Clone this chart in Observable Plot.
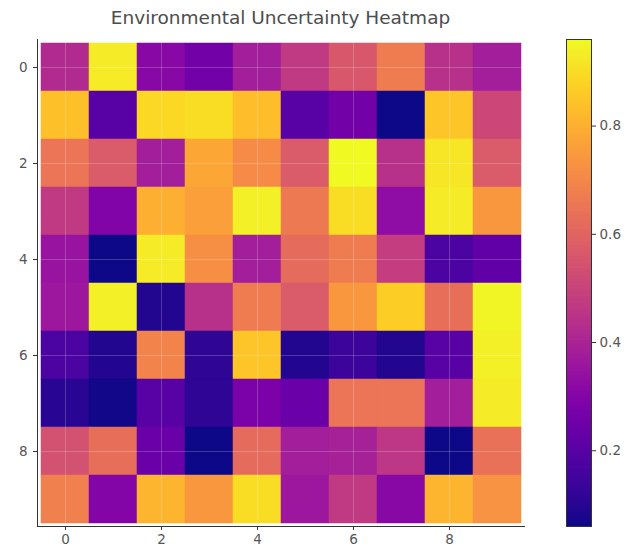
<!DOCTYPE html>
<html>
<head>
<meta charset="utf-8">
<script src="https://cdn.jsdelivr.net/npm/d3@7"></script>
<script src="https://cdn.jsdelivr.net/npm/@observablehq/plot@0.6"></script>
<style>
  html, body { margin: 0; padding: 0; background: #ffffff; }
  #chart { position: relative; width: 626px; height: 550px; font-family: "DejaVu Sans", sans-serif; }
  #title { position: absolute; top: 7px; left: 0; width: 561px; text-align: center; font-size: 18.5px; color: #4d4d4d; }
  #heat { position: absolute; left: 0; top: 0; }
  #cbar { position: absolute; left: 541px; top: 0; }
</style>
</head>
<body>
<div id="chart">
  <div id="title">Environmental Uncertainty Heatmap</div>
  <div id="heat"></div>
  <div id="cbar"></div>
</div>
<script>
// ---- data ----
const rowIndex = [0, 1, 2, 3, 4, 5, 6, 7, 8, 9];
const colIndex = [0, 1, 2, 3, 4, 5, 6, 7, 8, 9];
const row0 = [0.42, 0.93, 0.31, 0.26, 0.38, 0.47, 0.56, 0.67, 0.44, 0.38];
const row1 = [0.84, 0.20, 0.89, 0.90, 0.83, 0.20, 0.26, 0.06, 0.85, 0.51];
const row2 = [0.65, 0.57, 0.38, 0.78, 0.71, 0.57, 0.96, 0.44, 0.92, 0.57];
const row3 = [0.47, 0.29, 0.80, 0.76, 0.94, 0.66, 0.90, 0.33, 0.93, 0.74];
const row4 = [0.35, 0.06, 0.93, 0.72, 0.38, 0.62, 0.67, 0.48, 0.17, 0.22];
const row5 = [0.36, 0.94, 0.09, 0.44, 0.67, 0.57, 0.74, 0.87, 0.63, 0.95];
const row6 = [0.17, 0.09, 0.69, 0.11, 0.85, 0.09, 0.14, 0.09, 0.20, 0.94];
const row7 = [0.10, 0.07, 0.20, 0.11, 0.28, 0.24, 0.65, 0.65, 0.38, 0.93];
const row8 = [0.54, 0.63, 0.24, 0.06, 0.62, 0.38, 0.39, 0.46, 0.06, 0.64];
const row9 = [0.68, 0.30, 0.81, 0.74, 0.90, 0.36, 0.47, 0.31, 0.81, 0.73];
const valueRows = [row0, row1, row2, row3, row4, row5, row6, row7, row8, row9];
const axisTicks = [0, 2, 4, 6, 8];
const colorbarTicks = [0.2, 0.4, 0.6, 0.8];
const colorDomain = [0.06, 0.96];

const cells = [];
rowIndex.forEach((r, i) => colIndex.forEach((c, j) => cells.push({row: r, col: c, value: valueRows[i][j]})));

const font = {fontFamily: "DejaVu Sans, sans-serif", fontSize: "13.5px", color: "#555", background: "transparent"};

const heat = Plot.plot({
  width: 540, height: 550,
  marginLeft: 37, marginRight: 16, marginTop: 39, marginBottom: 24,
  style: font,
  x: {type: "band", domain: colIndex, padding: 0, axis: null},
  y: {type: "band", domain: rowIndex, padding: 0, axis: null},
  color: {type: "linear", scheme: "plasma", domain: colorDomain},
  marks: [
    Plot.cell(cells, {x: "col", y: "row", fill: "value", inset: 0, stroke: "value", strokeWidth: 0.5}),
    Plot.gridX(axisTicks, {stroke: "white", strokeOpacity: 0.2}),
    Plot.gridY(axisTicks, {stroke: "white", strokeOpacity: 0.2}),
    Plot.axisX(axisTicks, {label: null, tickSize: 4, tickPadding: 4, stroke: "#333", fill: "#555", fontSize: 13.5}),
    Plot.axisY(axisTicks, {label: null, tickSize: 4, tickPadding: 6, stroke: "#333", fill: "#555", fontSize: 13.5}),
    Plot.frame({anchor: "bottom", stroke: "#333"}),
    Plot.frame({anchor: "left", stroke: "#333"})
  ]
});
document.getElementById("heat").appendChild(heat);

const cbar = Plot.plot({
  width: 85, height: 550,
  marginLeft: 25, marginRight: 35, marginTop: 39, marginBottom: 24,
  style: font,
  x: {domain: [0, 1], axis: null},
  y: {domain: colorDomain, axis: null},
  color: {type: "linear", scheme: "plasma", domain: colorDomain},
  marks: [
    Plot.raster({x1: 0, x2: 1, y1: colorDomain[0], y2: colorDomain[1], width: 1, height: 400, fill: (x, y) => y, imageRendering: "auto"}),
    Plot.frame({stroke: "#333"}),
    Plot.axisY(colorbarTicks, {label: null, anchor: "right", tickSize: 4, tickPadding: 4, stroke: "#333", fill: "#555", fontSize: 13.5, tickFormat: d => d.toFixed(1)})
  ]
});
document.getElementById("cbar").appendChild(cbar);
</script>
</body>
</html>
